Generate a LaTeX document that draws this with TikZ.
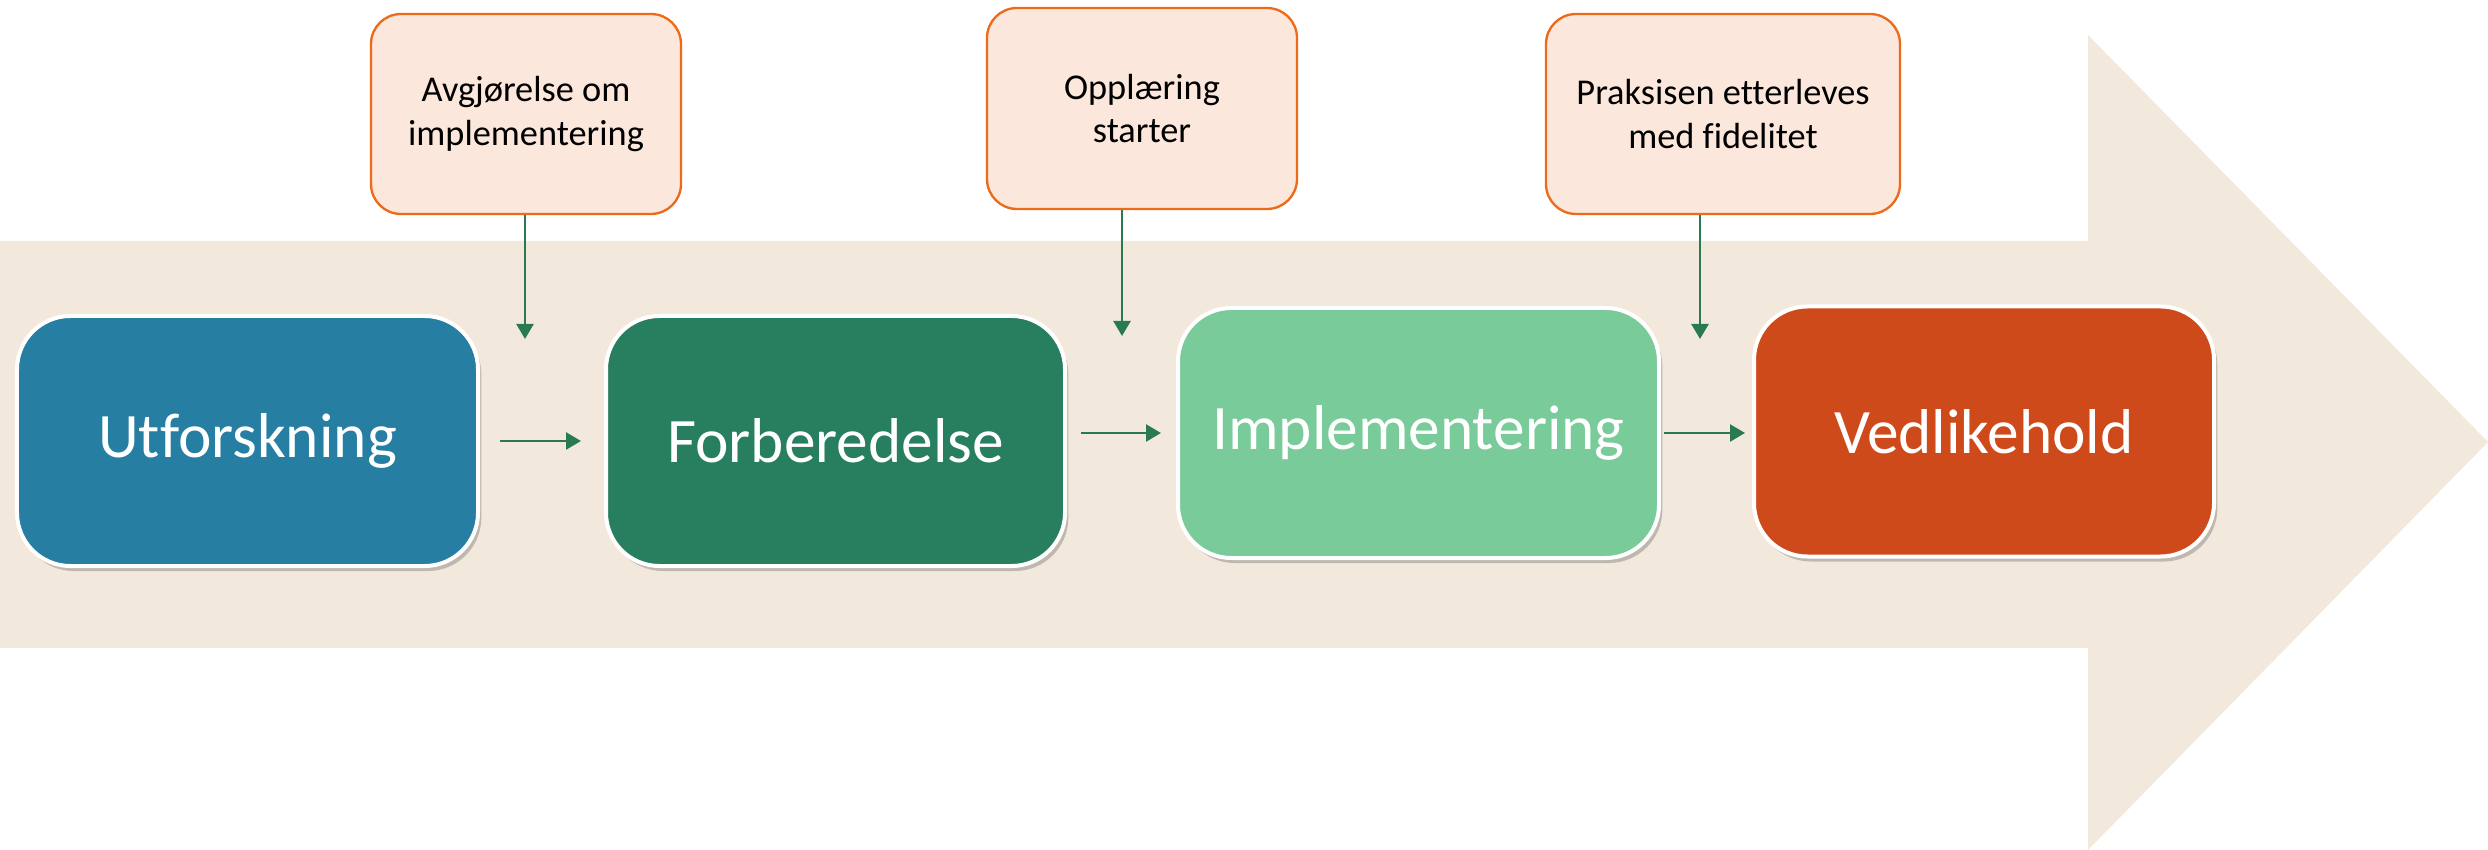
\documentclass[tikz,border=0pt]{standalone}
\usepackage{fontspec}
\setmainfont{Carlito}[Ligatures=NoCommon]
\usetikzlibrary{arrows.meta,shadows}
\definecolor{bgbeige}{HTML}{F2E8DC}
\definecolor{stblue}{HTML}{277EA3}
\definecolor{stdkgreen}{HTML}{287F5F}
\definecolor{stltgreen}{HTML}{79CB99}
\definecolor{stred}{HTML}{CE4A1B}
\definecolor{callfill}{HTML}{FBE7DB}
\definecolor{callborder}{HTML}{EE6A1B}
\definecolor{connclr}{HTML}{2A7A50}
\tikzset{
  stagebox/.style={rounded corners=16bp, draw=white, line width=1.2bp,
    text=white, inner sep=0pt, minimum height=75bp,
    font=\fontsize{19bp}{23bp}\selectfont,
    drop shadow={shadow xshift=1bp, shadow yshift=-1.5bp, opacity=0.3, fill=black!70}},
  callbox/.style={rounded corners=9bp, draw=callborder, fill=callfill, line width=0.7bp,
    text=black, inner sep=0pt, minimum height=60bp, align=center,
    font=\fontsize{10.9bp}{13bp}\selectfont},
  conn/.style={draw=connclr, line width=0.75bp, -{Triangle[length=4.5bp,width=5.1bp]}}
}
\begin{document}
\begin{tikzpicture}[x=0.3bp,y=-0.3bp]
\useasboundingbox (0,0) rectangle (2488,850);
% big background arrow
\fill[bgbeige] (0,241) -- (2088,241) -- (2088,35) -- (2488,442) -- (2088,850) -- (2088,648) -- (0,648) -- cycle;
% stage boxes
\node[stagebox, fill=stblue, minimum width=138.3bp] (u) at (247.5,441) {Utforskning};
\node[stagebox, fill=stdkgreen, minimum width=137.7bp] (f) at (835.5,441) {Forberedelse};
\node[stagebox, fill=stltgreen, minimum width=144.3bp] (i) at (1418.5,433) {Implementering};
\node[stagebox, fill=stred, minimum width=138bp] (v) at (1984,431.5) {Vedlikehold};
% callouts
\node[callbox, minimum width=93bp] (c1) at (526,114) {Avgjørelse om\\implementering};
\node[callbox, minimum width=93bp, minimum height=60.3bp] (c2) at (1142,108.5) {Opplæring\\starter};
\node[callbox, minimum width=106.2bp] (c3) at (1723,114) {Praksisen etterleves\\med fidelitet};
% free arrow ends
\coordinate (e1) at (525,339);
\coordinate (e2) at (1122,336);
\coordinate (e3) at (1700,339);
% vertical connectors
\draw[conn] (c1.south -| e1) -- (e1);
\draw[conn] (c2.south -| e2) -- (e2);
\draw[conn] (c3.south -| e3) -- (e3);
% horizontal connectors
\draw[conn, shorten <=6bp, shorten >=6.9bp] (u.east) -- (f.west);
\draw[conn, shorten <=4.2bp, shorten >=4.5bp] (f.east |- i.west) -- (i.west);
\draw[conn, shorten <=0.9bp, shorten >=2.1bp] (i.east) -- (i.east -| v.west);
\end{tikzpicture}
\end{document}
